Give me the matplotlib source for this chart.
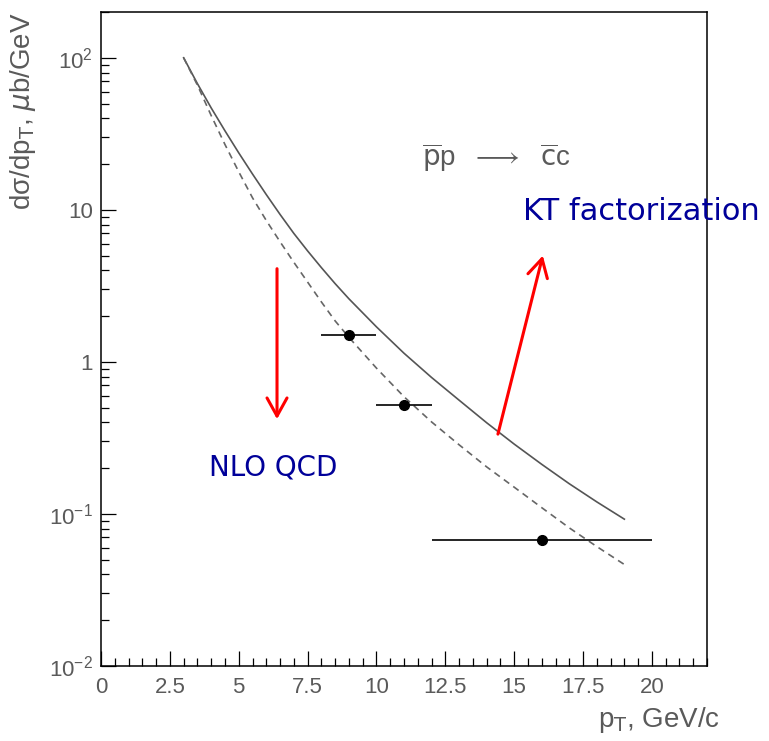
import matplotlib
matplotlib.use("Agg")
import matplotlib.pyplot as plt
import numpy as np
from matplotlib.ticker import FixedLocator, FixedFormatter, MultipleLocator, LogLocator, NullFormatter, FuncFormatter

# charm pT spectrum, p-pbar -> c-cbar (mub/GeV)
pt_curve = [3, 3.5, 4, 4.5, 5, 5.5, 6, 6.5, 7, 7.5, 8, 8.5, 9, 10, 11, 12, 13, 14, 15, 16, 17, 18, 19]
kt_curve = [100, 67.6, 46.8, 33.1, 23.7, 17.2, 12.6, 9.33, 7.0, 5.37, 4.17, 3.27, 2.60, 1.70, 1.14,
            0.79, 0.56, 0.398, 0.288, 0.212, 0.158, 0.120, 0.0924]
nlo_curve = [100, 66.1, 41.7, 26.9, 17.8, 12.0, 8.51, 6.17, 4.52, 3.35, 2.48, 1.86, 1.45, 0.91, 0.59,
             0.403, 0.285, 0.204, 0.150, 0.110, 0.081, 0.061, 0.0465]

# measured points with bin widths
pt_data = [9, 11, 16]
sigma_data = [1.5, 0.52, 0.067]
pt_err = [1, 1, 4]
sigma_err = [0.09, 0.035, 0.005]

ytick_vals = [0.01, 0.1, 1, 10, 100]
ytick_labels = [r"$10^{-2}$", r"$10^{-1}$", "1", "10", r"$10^{2}$"]

plt.rcParams['font.family'] = ['Liberation Sans', 'DejaVu Sans']
plt.rcParams['mathtext.default'] = 'regular'

grey = '#5a5a5a'

fig = plt.figure(figsize=(7.69, 7.41), dpi=100)
ax = fig.add_axes([101/769, 1 - 666/741, 606/769, 654/741])

ax.plot(pt_curve, kt_curve, '-', color='#555555', lw=1.2)
ax.plot(pt_curve, nlo_curve, '--', color='#666666', lw=1.2, dashes=(4, 3))
ax.errorbar(pt_data, sigma_data, xerr=pt_err, yerr=sigma_err, fmt='o', color='black',
            ms=7, elinewidth=1.2, capsize=0)

ax.set_yscale('log')
ax.set_xlim(0, 22)
ax.set_ylim(0.01, 200)

ax.yaxis.set_major_locator(FixedLocator(ytick_vals))
ax.yaxis.set_major_formatter(FixedFormatter(ytick_labels))
ax.yaxis.set_minor_locator(LogLocator(base=10, subs=np.arange(2, 10)))
ax.yaxis.set_minor_formatter(NullFormatter())
ax.xaxis.set_major_locator(MultipleLocator(2.5))
ax.xaxis.set_minor_locator(MultipleLocator(0.5))
ax.xaxis.set_major_formatter(FuncFormatter(lambda v, p: f"{v:g}" if v <= 20 else ""))

ax.tick_params(which='both', direction='in', top=False, right=False,
               labelsize=16, labelcolor=grey, width=0.9)
ax.tick_params(which='major', length=11)
ax.tick_params(which='minor', length=5.5)
ax.tick_params(axis='x', pad=8)
ax.tick_params(axis='y', pad=6)
for s in ax.spines.values():
    s.set_linewidth(1.1)

fig.text(23/769, 1 - 12/741, r"d$\sigma$/dp$_{\mathrm{T}}$, $\mathit{\mu}$b/GeV",
         rotation=90, ha='center', va='top', fontsize=20, color=grey)
fig.text(720/769, 1 - 727/741, r"p$_{\mathrm{T}}$, GeV/c", ha='right', va='baseline',
         fontsize=20, color=grey)

ax.text(14.34, 22, r"$\overline{\mathrm{p}}$p  $\longrightarrow$  $\overline{\mathrm{c}}$c",
        ha='center', va='center', fontsize=20, color=grey)

ax.text(19.6, 9.8, "KT factorization", family='DejaVu Sans', fontsize=22,
        color='#000099', ha='center', va='center')
ax.text(6.26, 0.203, "NLO QCD", family='DejaVu Sans', fontsize=20,
        color='#000099', ha='center', va='center')

arrow = dict(arrowstyle='->, head_length=0.65, head_width=0.36', color='red', lw=2.2,
             mutation_scale=20, shrinkA=0, shrinkB=0)
ax.annotate("", xy=(6.39, 0.42), xytext=(6.39, 4.1), arrowprops=arrow)
ax.annotate("", xy=(16.04, 5.0), xytext=(14.41, 0.335), arrowprops=arrow)

fig.savefig("out.png", dpi=100)
